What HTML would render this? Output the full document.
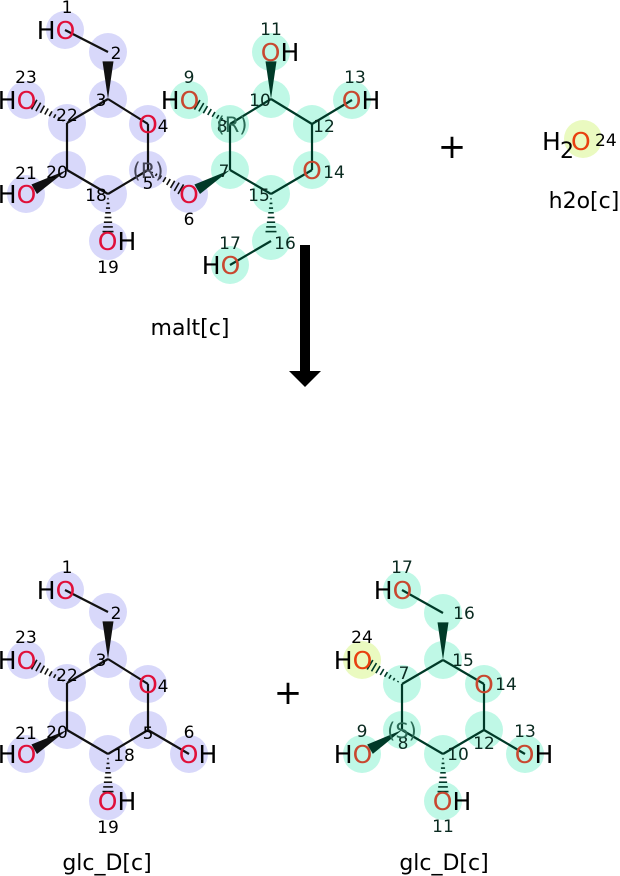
<!DOCTYPE html>
<html><head><meta charset="utf-8"><style>
html,body{margin:0;padding:0;background:#fff;width:620px;height:876px;overflow:hidden}
svg{display:block;font-family:"DejaVu Sans","Liberation Sans",sans-serif}
</style></head><body>
<svg id="s" width="620" height="876" viewBox="0 0 620 876" xmlns="http://www.w3.org/2000/svg"></svg>
<script>
const S=document.getElementById('s');let out='';
const B={c:'#d8d8fa',o:'#e0103a',b:'#111'},G={c:'#bff8e6',o:'#c84830',b:'#003a28'},Y={c:'#eafac0',o:'#e84010',b:'#111'};
function mol(atoms,bonds){
 const A={};atoms.forEach(a=>A[a[0]]=a);
 atoms.forEach(a=>{out+=`<circle cx="${a[1]}" cy="${a[2]}" r="19" fill="${a[3].c}"/>`});
 bonds.forEach(b=>{const p=A[b[0]],q=A[b[1]],t=b[2]||'s',col=p[3].b;
  if(t=='s'){out+=`<line x1="${p[1]}" y1="${p[2]}" x2="${q[1]}" y2="${q[2]}" stroke="${col}" stroke-width="2.2"/>`;return;}
  let dx=q[1]-p[1],dy=q[2]-p[2],L=Math.hypot(dx,dy);let nx=-dy/L,ny=dx/L;
  let x2=p[1]+dx*0.8,y2=p[2]+dy*0.8;
  if(t=='w'){out+=`<polygon points="${p[1]},${p[2]} ${x2+nx*5.5},${y2+ny*5.5} ${x2-nx*5.5},${y2-ny*5.5}" fill="${col}"/>`;}
  else{for(let i=1;i<=8;i++){let f=i/8*0.8,w=5.5*i/8;let cx=p[1]+dx*f,cy=p[2]+dy*f;out+=`<line x1="${cx+nx*w}" y1="${cy+ny*w}" x2="${cx-nx*w}" y2="${cy-ny*w}" stroke="${col}" stroke-width="1.6"/>`;}}
 });
 atoms.forEach(a=>{const [id,x,y,c,lab,nx,ny]=a;
  if(lab){let s=`<tspan fill="${c.o}">O</tspan>`;
   if(lab=='HO') out+=`<text x="${x-9}" y="${y+9}" font-size="25" text-anchor="middle" fill="#000">H${s}</text>`;
   else if(lab=='OH') out+=`<text x="${x+9}" y="${y+9}" font-size="25" text-anchor="middle" fill="#000">${s}H</text>`;
   else out+=`<text x="${x}" y="${y+9}" font-size="25" text-anchor="middle" fill="${c.o}">O</text>`;}
  out+=`<text x="${nx}" y="${ny}" font-size="17" text-anchor="middle" fill="${c.b=='#003a28'?'#0a2a20':'#000'}">${id}</text>`;
 });
}
function left(dy,bottom){
 return [['1',65,30+dy,B,'HO',67,13+dy],['2',108,52+dy,B,'',116,59+dy],['3',108,99+dy,B,'',101,106+dy],
 ['22',67,123+dy,B,'',67,121+dy],['4',148,124+dy,B,'O',163,132+dy],['20',67,170+dy,B,'',57,178+dy],
 ['5',148,170+dy,B,'',148,bottom?179+dy:189+dy],['18',108,194+dy,B,'',bottom?124:96,201+dy],
 ['6',189,194+dy,B,bottom?'OH':'O',189,bottom?178+dy:225+dy],['19',108,241+dy,B,'OH',108,273+dy],
 ['21',26,194+dy,B,'HO',26,179+dy],['23',26,100+dy,B,'HO',26,83+dy]];
}
const lb=[['1','2'],['3','2','w'],['3','22'],['3','4'],['22','20'],['22','23','h'],['20','18'],['20','21','w'],['18','5'],['18','19','h'],['5','4']];
let t=left(0,false);
t.push(['9',189,100,G,'HO',189,83],['8',230,124,G,'',222,132],['10',271,99,G,'',260,106],['11',271,52,G,'OH',271,35],
['12',312,124,G,'',324,132],['13',352,100,G,'OH',355,83],['14',312,170,G,'O',334,178],['7',230,170,G,'',224,177],
['15',271,194,G,'',259,201],['16',271,241,G,'',285,249],['17',230,265,G,'HO',230,249]);
mol(t,lb.concat([['5','6','h'],['7','6','w'],['7','8'],['8','9','h'],['8','10'],['10','11','w'],['10','12'],['12','13'],['12','14'],['14','15'],['15','7'],['15','16','h'],['16','17']]));
out+=`<text x="148" y="178" font-size="21" text-anchor="middle" fill="#445">(R)</text><text x="232" y="132" font-size="21" text-anchor="middle" fill="#2a6a55">(R)</text>`;
mol(left(560,true),lb.concat([['5','6']]));
mol([['17',402,590,G,'HO',402,573],['16',443,613,G,'',464,619],['15',443,660,G,'',463,666],['7',402,684,G,'',404,679],
['14',484,684,G,'O',506,690],['24',362,660,Y,'HO',362,643],['8',402,730,G,'',403,749],['12',484,730,G,'',484,749],
['10',443,754,G,'',458,760],['9',362,754,G,'HO',362,737],['13',525,754,G,'OH',525,737],['11',443,801,G,'OH',443,832]],
[['17','16'],['15','16','w'],['15','7'],['15','14'],['7','24','h'],['7','8'],['8','9','w'],['8','10'],['10','11','h'],['10','12'],['12','14'],['12','13']]);
out+=`<text x="402" y="738" font-size="21" text-anchor="middle" fill="#2a6a55">(S)</text>`;
out+=`<circle cx="583" cy="139" r="19" fill="#eafac0"/><text x="542" y="150" font-size="25" fill="#000">H</text><text x="560" y="158" font-size="22" fill="#000">2</text><text x="571" y="150" font-size="25" fill="#e84010">O</text><text x="595" y="146" font-size="17" fill="#000">24</text>`;
out+=`<text x="452" y="158" font-size="34" text-anchor="middle">+</text><text x="288" y="704" font-size="34" text-anchor="middle">+</text>`;
out+=`<rect x="300" y="245" width="10" height="128" fill="#000"/><polygon points="289,371 321,371 305,387" fill="#000"/>`;
out+=`<text x="190" y="335" font-size="22" text-anchor="middle">malt[c]</text><text x="584" y="208" font-size="22" text-anchor="middle">h2o[c]</text>`;
out+=`<text x="107" y="870" font-size="22" text-anchor="middle">glc_D[c]</text><text x="444" y="870" font-size="22" text-anchor="middle">glc_D[c]</text>`;
S.innerHTML=out;
</script>
</body></html>
